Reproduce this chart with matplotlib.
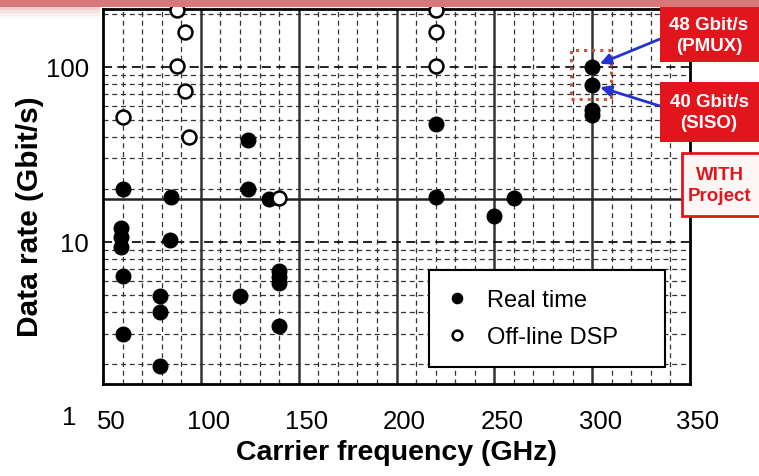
import matplotlib
matplotlib.use('Agg')
from matplotlib import pyplot as plt
from matplotlib.patches import Rectangle
from matplotlib.ticker import MultipleLocator, LogLocator, NullFormatter, FixedLocator
from matplotlib.transforms import ScaledTranslation, blended_transform_factory

# real time demonstrations (filled markers)
rt_freq = [60, 85, 124, 124, 135, 59, 59, 59, 84, 60, 60, 79, 79, 79, 120,
           140, 140, 140, 140, 220, 220, 250, 260, 300, 300, 300, 300]
rt_rate = [20, 18, 38, 20, 17.5, 12, 10.7, 9.4, 10.3, 6.4, 3.0, 4.9, 4.0, 1.95, 4.9,
           6.8, 6.3, 5.8, 3.3, 47, 18, 14, 17.8, 100, 79, 57, 53]

# off-line DSP demonstrations (open markers)
off_freq = [60, 88, 88, 92, 92, 94, 140, 220, 220, 220]
off_rate = [52, 210, 101, 158, 73, 40, 17.8, 210, 158, 101]

x_ticks = [50, 100, 150, 200, 250, 300, 350]
y_ticks = [10, 100]
with_project_rate = 17.5

plt.rcParams['font.family'] = ['Liberation Sans', 'DejaVu Sans']

W, H = 759, 477
fig = plt.figure(figsize=(W / 100, H / 100), dpi=100)
ax = fig.add_axes([103 / W, 1 - 385 / H, (690 - 103) / W, (385 - 10) / H])


def fx(px):
    return px / W


def fy(py):
    return 1 - py / H


ax.set_xlim(50, 350)
ax.set_yscale('log')
ax.set_ylim(1.545, 214)

ax.xaxis.set_major_locator(FixedLocator(x_ticks))
ax.xaxis.set_minor_locator(MultipleLocator(10))
ax.yaxis.set_major_locator(FixedLocator(y_ticks))
ax.yaxis.set_minor_locator(LogLocator(base=10, subs=range(2, 10)))
ax.yaxis.set_minor_formatter(NullFormatter())
ax.set_yticklabels(['10', '100'])

ax.tick_params(which='both', length=0)
ax.tick_params(axis='x', labelsize=18.5, pad=18)
ax.tick_params(axis='y', labelsize=18.5, pad=10)
for lab in ax.get_xticklabels():
    lab.set_transform(lab.get_transform() + ScaledTranslation(0.08, 0, fig.dpi_scale_trans))

ax.text(-0.045, 1, '1', fontsize=18.5, ha='right', va='center',
        transform=blended_transform_factory(ax.transAxes, ax.transData), clip_on=False)

# grid
ax.grid(which='minor', axis='both', color='#333333', linestyle=(0, (4, 3)), linewidth=0.9)
ax.grid(which='major', axis='y', color='#111111', linestyle=(0, (5, 3)), linewidth=1.3)
for xv in x_ticks[1:-1]:
    ax.axvline(xv, color='#333333', linewidth=1.8, zorder=1.5)
ax.axhline(with_project_rate, color='#222222', linewidth=1.8, zorder=1.5)

for s in ax.spines.values():
    s.set_linewidth(2)

ax.plot(rt_freq, rt_rate, 'o', color='black', markersize=10.5, label='Real time', zorder=3,
        clip_on=False)
ax.plot(off_freq, off_rate, 'o', markerfacecolor='white', markeredgecolor='black',
        markeredgewidth=1.8, markersize=10, label='Off-line DSP', zorder=4, clip_on=False)

ax.set_xlabel('Carrier frequency (GHz)', fontsize=20.5, fontweight='bold', labelpad=4)
ax.set_ylabel('Data rate (Gbit/s)', fontsize=21.5, fontweight='bold')
ax.yaxis.set_label_coords(-0.1, 0.45)

leg = ax.legend(loc='lower left', bbox_to_anchor=(0.555, 0.045, 0.402, 0.275), mode='expand',
                borderaxespad=0, fontsize=17, markerscale=0.7, handlelength=0.8,
                handletextpad=0.85, borderpad=0.8, labelspacing=0.65, fancybox=False,
                framealpha=1)
leg.get_frame().set_edgecolor('black')
leg.get_frame().set_linewidth(1.5)
leg.set_zorder(6)

# dotted highlight around the 300 GHz results
ax.add_patch(Rectangle((289.3, 65.6), 20.4, 125 - 65.6, fill=False, edgecolor='#c8553d',
                       linestyle=':', linewidth=2.2, zorder=5))

# red label boxes
box_red = '#e3151c'
fig.patches.append(Rectangle((fx(660), fy(63)), fx(100), fy(8) - fy(63), transform=fig.transFigure,
                             facecolor=box_red, edgecolor='none', zorder=10))
fig.patches.append(Rectangle((fx(660), fy(143)), fx(100), fy(83) - fy(143), transform=fig.transFigure,
                             facecolor=box_red, edgecolor='none', zorder=10))
fig.patches.append(Rectangle((fx(682), fy(217)), fx(80), fy(154) - fy(217), transform=fig.transFigure,
                             facecolor='#fff6f6', edgecolor=box_red, linewidth=2, zorder=10))
fig.text(fx(709), fy(36), '48 Gbit/s\n(PMUX)', color='white', fontsize=13.5, fontweight='bold',
         ha='center', va='center', linespacing=1.35, zorder=11)
fig.text(fx(709), fy(113), '40 Gbit/s\n(SISO)', color='white', fontsize=13.5, fontweight='bold',
         ha='center', va='center', linespacing=1.35, zorder=11)
fig.text(fx(720), fy(186), 'WITH\nProject', color=box_red, fontsize=13.5, fontweight='bold',
         ha='center', va='center', linespacing=1.25, zorder=11)

# blue arrows
for target, start in [((300, 100), (660, 40)), ((300, 79), (660, 107))]:
    ax.annotate('', xy=target, xytext=(fx(start[0]), fy(start[1])), textcoords='figure fraction',
                arrowprops=dict(arrowstyle='-|>', color='#2433d0', lw=2, shrinkA=0, shrinkB=6,
                                mutation_scale=16), zorder=12, annotation_clip=False)

# red header bar with faded edge
fig.patches.append(Rectangle((0, fy(8)), 1, fy(0) - fy(8), transform=fig.transFigure,
                             facecolor='#d87878', edgecolor='none', zorder=9))
for i, a in enumerate([0.35, 0.22, 0.12, 0.05]):
    fig.patches.append(Rectangle((0, fy(11 + 3 * i)), fx(100), 3 / H, transform=fig.transFigure,
                                 facecolor='#d87878', alpha=a, edgecolor='none', zorder=9))

fig.savefig('out.png', dpi=100)
